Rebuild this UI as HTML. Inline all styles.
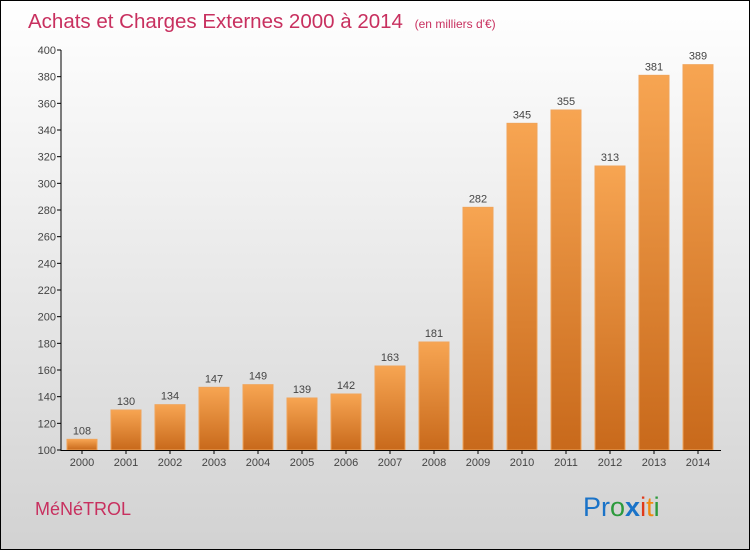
<!DOCTYPE html>
<html><head><meta charset="utf-8"><style>
body{margin:0}
#c{position:relative;width:748px;height:548px;border:1px solid #000;background:linear-gradient(#fff,#f2f2f2 30%,#d2d2d2);font-family:"Liberation Sans",sans-serif;overflow:hidden}
</style></head><body>
<div id="c">
<svg width="748" height="548">
<defs><linearGradient id="g" x1="0" y1="0" x2="0" y2="1"><stop offset="0" stop-color="#f7a552"/><stop offset="1" stop-color="#c8691b"/></linearGradient></defs>
<text x="27" y="27" font-size="20.5" fill="#c8305f">Achats et Charges Externes 2000 à 2014 <tspan font-size="12" dx="6">(en milliers d'€)</tspan></text>
<g id="plot"></g>
<text x="34" y="514" font-size="18" fill="#c8305f">MéNéTROL</text>
<text x="582" y="515" font-size="27"><tspan fill="#1a73c8">Pr</tspan><tspan fill="#2c9a3c">o</tspan><tspan fill="#1a73c8" font-weight="bold">x</tspan><tspan fill="#e03a1a">i</tspan><tspan fill="#f08a10">t</tspan><tspan fill="#2c9a3c">i</tspan></text>
</svg></div>
<script>
const years=["2000","2001","2002","2003","2004","2005","2006","2007","2008","2009","2010","2011","2012","2013","2014"];
const values=[108,130,134,147,149,139,142,163,181,282,345,355,313,381,389];
const yTicks=[100,120,140,160,180,200,220,240,260,280,300,320,340,360,380,400];
const NS="http://www.w3.org/2000/svg";
const g=document.getElementById('plot');
const y=v=>449-(v-100)*400/300;
const x=i=>81+i*44;
function el(t,a,txt){const e=document.createElementNS(NS,t);for(const k in a)e.setAttribute(k,a[k]);if(txt!=null)e.textContent=txt;g.appendChild(e);return e;}
yTicks.forEach(t=>{
const l=el('line',{x1:56,x2:60,y1:y(t),y2:y(t),stroke:'#000'});


const tx=el('text',{x:55,y:y(t)+4,'font-size':11,fill:'#444','text-anchor':'end'},t);


});
values.forEach((v,i)=>{
const r=el('rect',{x:x(i)-15,y:y(v),width:30,height:y(100)-y(v),fill:'url(#g)',stroke:'#f0a45a','stroke-width':1});


const t=el('text',{x:x(i),y:y(v)-5,'font-size':11,fill:'#444','text-anchor':'middle'},v);


const tk=el('line',{x1:x(i),x2:x(i),y1:449,y2:453,stroke:'#000'});


const yl=el('text',{x:x(i),y:465,'font-size':11,fill:'#444','text-anchor':'middle'},years[i]);


});
const ax=el('line',{x1:60,x2:60,y1:49,y2:450,stroke:'#000'});


const bx=el('line',{x1:60,x2:720,y1:449.5,y2:449.5,stroke:'#000'});


</script>
</body></html>
